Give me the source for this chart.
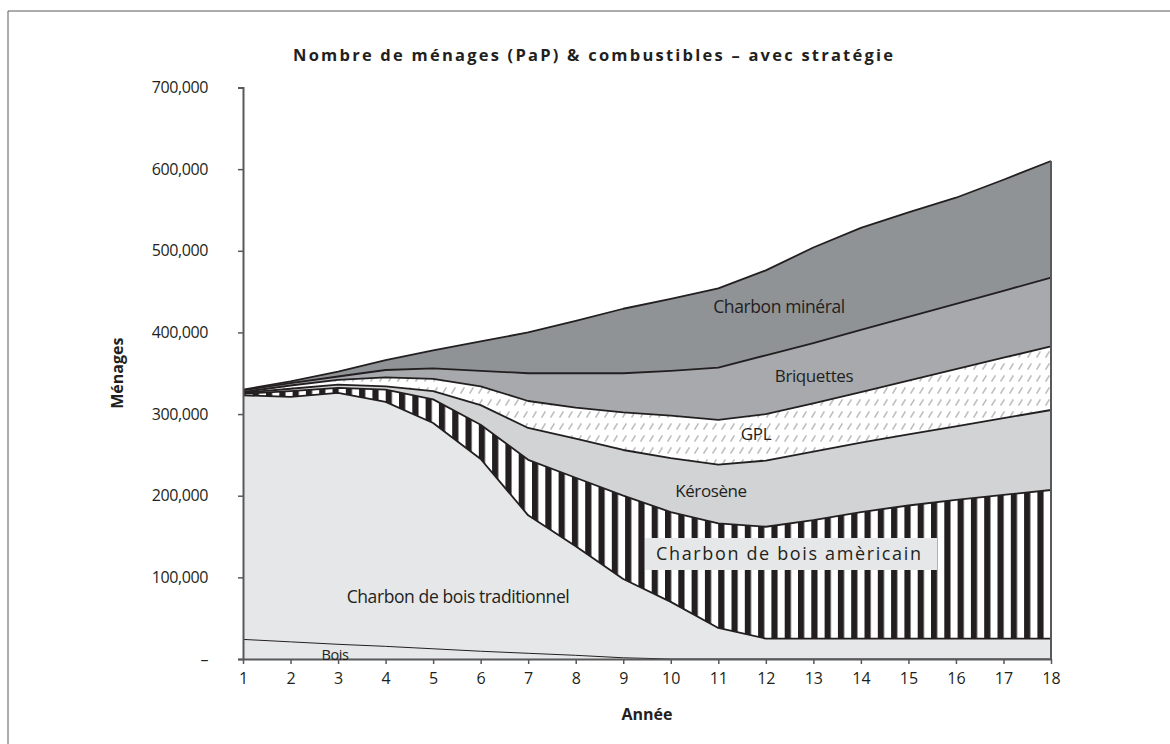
<!DOCTYPE html>
<html>
<head>
<meta charset="utf-8">
<script src="https://cdn.jsdelivr.net/npm/d3@7"></script>
<style>
  body { margin: 0; background: #fff; }
  text { font-family: "Open Sans", "DejaVu Sans", sans-serif; fill: #231f20; }
</style>
</head>
<body>
<div id="chart"></div>
<script>
// years on the x axis
const years = [1, 2, 3, 4, 5, 6, 7, 8, 9, 10, 11, 12, 13, 14, 15, 16, 17, 18];

// households per fuel, in thousands
const bois = [24, 21, 18, 15.5, 12.5, 9.5, 7, 4.5, 1.5, 0, 0, 0, 0, 0, 0, 0, 0, 0];
const traditionnel = [299, 300, 308, 299.5, 276.5, 235.5, 169, 133.5, 96.5, 70, 38, 25, 25, 25, 25, 25, 25, 25];
const americain = [2, 7, 6, 15, 29, 42, 68, 84, 102, 110, 128, 137, 145, 155, 163, 170, 176, 182];
const kerosene = [1, 3, 4, 4, 10, 24, 39, 48, 56, 66, 72, 81, 84, 85, 87, 90, 94, 98];
const gpl = [1, 4, 6, 11, 15, 23, 33, 38, 46, 52, 55, 57, 59, 62, 66, 70, 74, 78];
const briquettes = [2, 3, 4, 9, 13, 19, 34, 42, 48, 55, 64, 72, 74, 76, 78, 80, 82, 84];
const mineral = [1, 2, 6, 12, 22, 36, 50, 64, 79, 88, 97, 104, 117, 125, 128, 130, 136, 143];

const yTicks = [0, 100, 200, 300, 400, 500, 600, 700];

const width = 1170;
const height = 744;
const margin = { top: 87.5, right: 119, bottom: 85, left: 243 };

const keys = ["bois", "traditionnel", "americain", "kerosene", "gpl", "briquettes", "mineral"];
const series = { bois, traditionnel, americain, kerosene, gpl, briquettes, mineral };

const rows = years.map((yr, i) => {
  const r = { year: yr };
  keys.forEach((k) => (r[k] = series[k][i]));
  return r;
});

const svg = d3
  .select("#chart")
  .append("svg")
  .attr("width", width)
  .attr("height", height);

// patterns
const defs = svg.append("defs");
const stripes = defs
  .append("pattern")
  .attr("id", "stripes")
  .attr("patternUnits", "userSpaceOnUse")
  .attr("width", 13.3)
  .attr("height", 10);
stripes.append("rect").attr("width", 13.3).attr("height", 10).attr("fill", "#fff");
stripes.append("rect").attr("width", 6.2).attr("height", 10).attr("fill", "#231f20");

const hatch = defs
  .append("pattern")
  .attr("id", "hatch")
  .attr("patternUnits", "userSpaceOnUse")
  .attr("width", 9)
  .attr("height", 12);
hatch.append("rect").attr("width", 9).attr("height", 12).attr("fill", "#fff");
hatch
  .append("path")
  .attr("d", "M2,9 L5,4")
  .attr("stroke", "#bcbec0")
  .attr("stroke-width", 1.6)
  .attr("stroke-linecap", "square");

const fills = {
  bois: "#e6e7e8",
  traditionnel: "#e6e7e8",
  americain: "url(#stripes)",
  kerosene: "#d1d3d4",
  gpl: "url(#hatch)",
  briquettes: "#a7a9ac",
  mineral: "#909396",
};

const x = d3
  .scaleLinear()
  .domain([1, 18])
  .range([margin.left, width - margin.right]);
const y = d3
  .scaleLinear()
  .domain([0, 700])
  .range([height - margin.bottom, margin.top]);

const stack = d3.stack().keys(keys)(rows);

const area = d3
  .area()
  .x((d) => x(d.data.year))
  .y0((d) => y(d[0]))
  .y1((d) => y(d[1]));

const line = d3
  .line()
  .x((d) => x(d.data.year))
  .y((d) => y(d[1]));

const g = svg.append("g");

g.selectAll("path.layer")
  .data(stack)
  .enter()
  .append("path")
  .attr("class", "layer")
  .attr("d", area)
  .attr("fill", (d) => fills[d.key]);

g.selectAll("path.edge")
  .data(stack)
  .enter()
  .append("path")
  .attr("class", "edge")
  .attr("d", line)
  .attr("fill", "none")
  .attr("stroke", "#231f20")
  .attr("stroke-width", (d) => (d.key === "bois" ? 1 : 1.8))
  .attr("stroke-linejoin", "round");

// right edge of the stack
const last = rows[rows.length - 1];
g.append("line")
  .attr("x1", x(18))
  .attr("x2", x(18))
  .attr("y1", y(0))
  .attr("y2", y(d3.sum(keys, (k) => last[k])))
  .attr("stroke", "#58595b")
  .attr("stroke-width", 2);

// axes
const yAxis = d3
  .axisLeft(y)
  .tickValues(yTicks)
  .tickSize(5)
  .tickPadding(30)
  .tickFormat((d) => (d === 0 ? "–" : d3.format(",")(d * 1000)));
const ya = svg
  .append("g")
  .attr("transform", `translate(${margin.left},0)`)
  .call(yAxis);
ya.select(".domain").attr("stroke", "#58595b").attr("stroke-width", 2);
ya.selectAll(".tick line").attr("stroke", "#58595b").attr("stroke-width", 1.5);
ya.selectAll(".tick text")
  .style("font-size", "16px")
  .style("font-family", "'Open Sans', sans-serif")
  .style("letter-spacing", "-0.4px")
  .attr("fill", "#231f20");

const xAxis = d3
  .axisBottom(x)
  .tickValues(years)
  .tickSize(5)
  .tickSizeOuter(0)
  .tickPadding(9)
  .tickFormat(d3.format("d"));
const xa = svg
  .append("g")
  .attr("transform", `translate(0,${height - margin.bottom})`)
  .call(xAxis);
xa.select(".domain").attr("stroke", "#58595b").attr("stroke-width", 2);
xa.selectAll(".tick line").attr("stroke", "#58595b").attr("stroke-width", 1.5);
xa.selectAll(".tick text")
  .style("font-size", "16px")
  .style("font-family", "'Open Sans', sans-serif")
  .attr("fill", "#231f20");

// frame
svg.append("line").attr("x1", 8).attr("x2", width).attr("y1", 11).attr("y2", 11)
  .attr("stroke", "#58595b").attr("stroke-width", 1);
svg.append("line").attr("x1", 8).attr("x2", 8).attr("y1", 11).attr("y2", height)
  .attr("stroke", "#58595b").attr("stroke-width", 1);

// titles
svg.append("text")
  .attr("x", 593)
  .attr("y", 61)
  .attr("text-anchor", "middle")
  .attr("textLength", 600)
  .attr("lengthAdjust", "spacing")
  .style("font-size", "16.5px")
  .style("font-weight", "bold")
  .text("Nombre de ménages (PaP) & combustibles – avec stratégie");

svg.append("text")
  .attr("x", x(9.5))
  .attr("y", 720)
  .attr("text-anchor", "middle")
  .style("font-size", "16px")
  .style("font-weight", "bold")
  .text("Année");

svg.append("text")
  .attr("transform", `translate(123,${y(350)}) rotate(-90)`)
  .attr("text-anchor", "middle")
  .style("font-size", "16px")
  .style("font-weight", "bold")
  .text("Ménages");

// labels inside the areas
const labels = [
  { t: "Charbon minéral", x: 779, y: 313, s: 17.5 },
  { t: "Briquettes", x: 814, y: 382, s: 17 },
  { t: "GPL", x: 756, y: 440, s: 17 },
  { t: "Kérosène", x: 711, y: 497, s: 17 },
  { t: "Charbon de bois traditionnel", x: 458, y: 603, s: 17.5 },
  { t: "Bois", x: 335, y: 660, s: 14.5 },
];
svg.selectAll("text.lbl")
  .data(labels)
  .enter()
  .append("text")
  .attr("class", "lbl")
  .attr("x", (d) => d.x)
  .attr("y", (d) => d.y)
  .attr("text-anchor", "middle")
  .style("font-size", (d) => d.s + "px")
  .style("letter-spacing", "-0.4px")
  .text((d) => d.t);

svg.append("rect")
  .attr("x", 645)
  .attr("y", 538)
  .attr("width", 292)
  .attr("height", 32)
  .attr("fill", "#e6e7e8");
svg.append("text")
  .attr("x", 656)
  .attr("y", 560)
  .attr("textLength", 265)
  .attr("lengthAdjust", "spacing")
  .style("font-size", "18px")
  .text("Charbon de bois amèricain");
</script>
</body>
</html>
